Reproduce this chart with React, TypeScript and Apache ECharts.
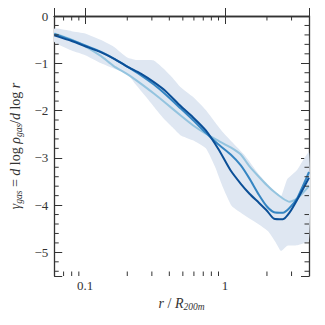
import React, { useEffect, useRef } from 'react';
import * as echarts from 'echarts';

// radius grid (r / R200m) for the three profiles
const radius = [0.06, 0.08, 0.1, 0.13, 0.16, 0.2, 0.25, 0.31, 0.38, 0.48, 0.59, 0.73, 0.9, 1.1, 1.3, 1.5, 1.75, 2.0, 2.25, 2.6, 2.9, 3.3, 4.0];
const gammaDark = [-0.41, -0.53, -0.64, -0.77, -0.90, -1.07, -1.22, -1.40, -1.60, -1.90, -2.14, -2.42, -2.82, -3.27, -3.55, -3.76, -3.95, -4.12, -4.29, -4.30, -4.16, -3.88, -3.42];
const gammaMedium = [-0.38, -0.51, -0.62, -0.76, -0.90, -1.07, -1.25, -1.45, -1.67, -1.95, -2.20, -2.47, -2.72, -2.93, -3.16, -3.44, -3.78, -4.03, -4.15, -4.16, -4.06, -3.85, -3.30];
const gammaLight = [-0.37, -0.50, -0.64, -0.85, -1.06, -1.23, -1.43, -1.64, -1.85, -2.10, -2.31, -2.49, -2.64, -2.78, -2.93, -3.18, -3.40, -3.58, -3.72, -3.86, -3.93, -3.86, -3.60];

// scatter band
const bandRadius = [0.06, 0.08, 0.1, 0.13, 0.16, 0.2, 0.23, 0.27, 0.31, 0.36, 0.42, 0.48, 0.59, 0.73, 0.85, 0.96, 1.12, 1.39, 1.73, 2.03, 2.3, 2.52, 2.8, 3.3, 4.0];
const bandUpper = [-0.27, -0.32, -0.37, -0.51, -0.65, -0.88, -0.93, -0.93, -0.94, -1.1, -1.3, -1.5, -1.71, -1.99, -2.25, -2.45, -2.66, -2.95, -3.33, -3.56, -3.72, -3.82, -3.45, -3.25, -2.88];
const bandLower = [-0.55, -0.73, -0.83, -1.0, -1.11, -1.22, -1.45, -1.7, -1.92, -2.15, -2.35, -2.52, -2.63, -2.8, -3.19, -3.6, -4.02, -4.22, -4.4, -4.55, -4.78, -4.97, -4.86, -4.85, -4.75];

// axes
const xMin = 0.06;
const xMax = 4;
const yMin = -5.5;
const yMax = 0;
const xMinorTicks = [0.07, 0.08, 0.09, 0.2, 0.3, 0.4, 0.5, 0.6, 0.7, 0.8, 0.9, 2, 3];
const yMinorTicks = [-5.4, -5.2, -4.8, -4.6, -4.4, -4.2, -3.8, -3.6, -3.4, -3.2, -2.8, -2.6, -2.4, -2.2, -1.8, -1.6, -1.4, -1.2, -0.8, -0.6, -0.4, -0.2];

const FONT = 'Liberation Serif';
const AXIS_COLOR = '#333333';

export default function App() {
  const ref = useRef<HTMLDivElement>(null);

  useEffect(() => {
    if (!ref.current) return;
    const chart = echarts.init(ref.current, null, { renderer: 'svg' });

    const bandData = bandRadius.map((r, i) => [r, bandUpper[i], bandLower[i]]);
    const tickData = [
      ...xMinorTicks.map((v) => [v, -1, 0]),
      ...yMinorTicks.map((v) => [1, v, 1]),
    ];

    const fmtY = (v: number) => {
      if (Math.abs(v - Math.round(v)) > 1e-6) return '';
      return v < 0 ? '\u2212' + Math.abs(v) : String(v);
    };
    const fmtX = (v: number) => {
      const l = Math.log10(v);
      if (Math.abs(l - Math.round(l)) > 1e-6) return '';
      return String(Number(v.toPrecision(3)));
    };

    const tickLen = 8;
    const minorLen = 4.5;

    const baseX = {
      type: 'log',
      logBase: 10,
      min: xMin,
      max: xMax,
      splitLine: { show: false },
      axisLine: { show: true, lineStyle: { color: AXIS_COLOR, width: 1.3 } },
      axisTick: { show: true, inside: true, length: tickLen, lineStyle: { color: AXIS_COLOR, width: 1 } },
    };
    const baseY = {
      type: 'value',
      min: yMin,
      max: yMax,
      splitLine: { show: false },
      axisLine: { show: true, lineStyle: { color: AXIS_COLOR, width: 1.3 } },
      axisTick: { show: true, inside: true, length: tickLen, lineStyle: { color: AXIS_COLOR, width: 1 } },
    };

    const rich = {
      i: { fontFamily: FONT, fontStyle: 'italic', fontSize: 14, color: AXIS_COLOR, lineHeight: 17 },
      n: { fontFamily: FONT, fontSize: 14, color: AXIS_COLOR, lineHeight: 17 },
      s: { fontFamily: FONT, fontStyle: 'italic', fontSize: 9.5, color: AXIS_COLOR, lineHeight: 9, verticalAlign: 'bottom' },
    };

    const option: any = {
      animation: false,
      grid: { left: 49, right: 16, top: 16, bottom: 49 },
      xAxis: [
        {
          ...baseX,
          position: 'bottom',
          axisLabel: { show: true, formatter: fmtX, fontFamily: FONT, fontSize: 13, color: AXIS_COLOR, margin: 3 },
          name: '{i|r}{n| / }{i|R}{s|200m}',
          nameLocation: 'middle',
          nameGap: 17,
          nameTextStyle: { rich },
        },
        {
          ...baseX,
          position: 'top',
          axisLabel: { show: false },
        },
      ],
      yAxis: [
        {
          ...baseY,
          position: 'left',
          axisLabel: { show: true, formatter: fmtY, fontFamily: FONT, fontSize: 13, color: AXIS_COLOR, margin: 6 },
          name: '{i|\u03b3}{s|gas}{n| = }{i|d}{n| log }{i|\u03c1}{s|gas}{n|/}{i|d}{n| log }{i|r}',
          nameLocation: 'middle',
          nameRotate: 90,
          nameGap: 21,
          nameTextStyle: { rich },
        },
        {
          ...baseY,
          position: 'right',
          axisLabel: { show: false },
        },
      ],
      series: [
        {
          type: 'custom',
          name: 'band',
          xAxisIndex: 0,
          yAxisIndex: 0,
          clip: true,
          z: 1,
          dimensions: ['r', 'hi', 'lo'],
          encode: { x: 0, y: 1 },
          data: bandData,
          renderItem: (params: any, api: any) => {
            if (params.dataIndex !== 0) return null;
            const pts: number[][] = [];
            for (let i = 0; i < bandData.length; i++) pts.push(api.coord([bandData[i][0], bandData[i][1]]));
            for (let i = bandData.length - 1; i >= 0; i--) pts.push(api.coord([bandData[i][0], bandData[i][2]]));
            return {
              type: 'polygon',
              shape: { points: pts, smooth: 0.15 },
              style: { fill: '#dfe7f2', stroke: 'none' },
            };
          },
        },
        {
          type: 'line',
          name: 'light',
          data: radius.map((r, i) => [r, gammaLight[i]]),
          showSymbol: false,
          smooth: 0.2,
          z: 3,
          lineStyle: { color: '#94c4df', width: 2 },
        },
        {
          type: 'line',
          name: 'medium',
          data: radius.map((r, i) => [r, gammaMedium[i]]),
          showSymbol: false,
          smooth: 0.2,
          z: 4,
          lineStyle: { color: '#3585c2', width: 2 },
        },
        {
          type: 'line',
          name: 'dark',
          data: radius.map((r, i) => [r, gammaDark[i]]),
          showSymbol: false,
          smooth: 0.2,
          z: 5,
          lineStyle: { color: '#0b4f97', width: 2 },
        },
        {
          type: 'custom',
          name: 'minorTicks',
          clip: false,
          z: 10,
          dimensions: ['x', 'y', 'k'],
          encode: { x: 0, y: 1 },
          data: tickData,
          renderItem: (params: any, api: any) => {
            const cs = params.coordSys;
            const kind = api.value(2);
            const style = { stroke: AXIS_COLOR, lineWidth: 1 };
            if (kind === 0) {
              const x = api.coord([api.value(0), -1])[0];
              return {
                type: 'group',
                children: [
                  { type: 'line', shape: { x1: x, y1: cs.y + cs.height, x2: x, y2: cs.y + cs.height - minorLen }, style },
                  { type: 'line', shape: { x1: x, y1: cs.y, x2: x, y2: cs.y + minorLen }, style },
                ],
              };
            }
            const y = api.coord([1, api.value(1)])[1];
            return {
              type: 'group',
              children: [
                { type: 'line', shape: { x1: cs.x, y1: y, x2: cs.x + minorLen, y2: y }, style },
                { type: 'line', shape: { x1: cs.x + cs.width, y1: y, x2: cs.x + cs.width - minorLen, y2: y }, style },
              ],
            };
          },
        },
      ],
    };

    chart.setOption(option);
    return () => chart.dispose();
  }, []);

  return (
    <div
      ref={ref}
      style={{ position: 'fixed', left: 0, top: 0, width: 325, height: 325, background: '#ffffff' }}
    />
  );
}
